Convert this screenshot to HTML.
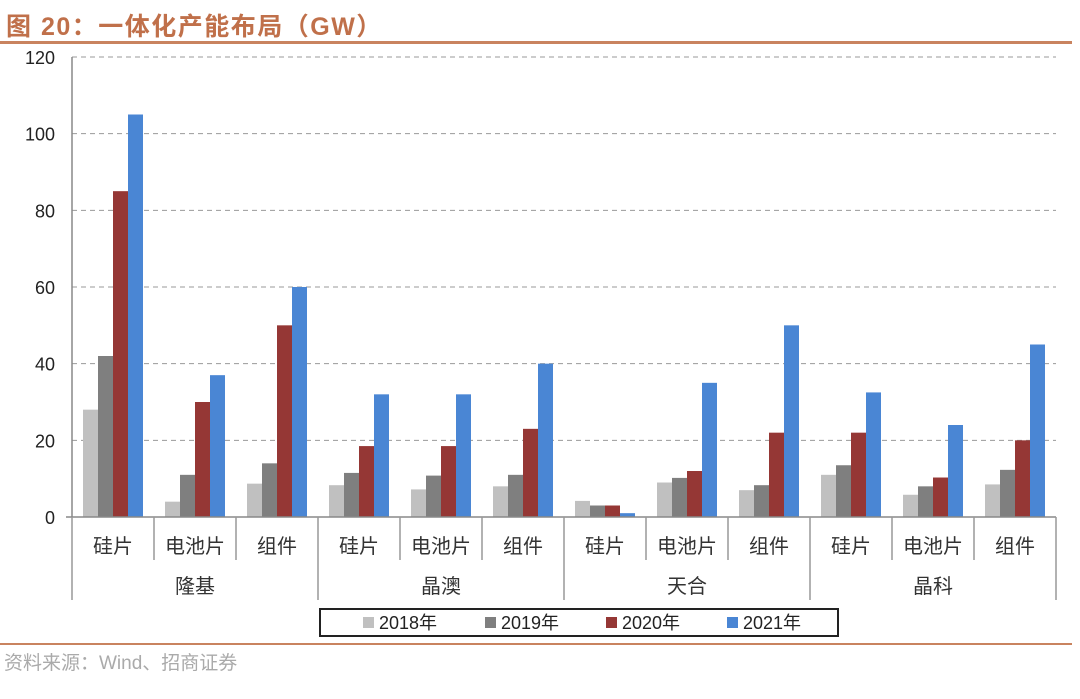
<!DOCTYPE html>
<html><head><meta charset="utf-8"><style>
body{margin:0;width:1080px;height:694px;background:#fff;font-family:"Liberation Sans","Noto Sans CJK SC",sans-serif;overflow:hidden}
</style></head><body>
<svg id="c" width="1080" height="694" xmlns="http://www.w3.org/2000/svg"></svg>
<script>
const groups=["隆基","晶澳","天合","晶科"];
const categories=["硅片","电池片","组件"];
const seriesNames=["2018年","2019年","2020年","2021年"];
const s2018=[28,4,8.7,8.3,7.2,8,4.2,9,7,11,5.8,8.5];
const s2019=[42,11,14,11.5,10.8,11,3,10.2,8.3,13.5,8,12.3];
const s2020=[85,30,50,18.5,18.5,23,3,12,22,22,10.3,20];
const s2021=[105,37,60,32,32,40,1,35,50,32.5,24,45];
const yTicks=[0,20,40,60,80,100,120];
const colors=["#c0c0c0","#7f7f7f","#953735","#4a86d4"];
const svg=document.getElementById('c');
const NS="http://www.w3.org/2000/svg";
function el(t,a,txt){const e=document.createElementNS(NS,t);for(const k in a)e.setAttribute(k,a[k]);if(txt!==undefined)e.textContent=txt;svg.appendChild(e);return e;}
const X0=72,X1=1056,Y0=517,Y1=57,YMAX=120;
const y=v=>Y0-(v/YMAX)*(Y0-Y1);
const n=s2018.length,gw=(X1-X0)/n,bw=15;
const x=i=>X0+i*gw;
let t=el('text',{x:6,y:35,fill:'#c0704a','font-size':25,'font-weight':'bold','letter-spacing':'1.5'},'图 20：一体化产能布局（GW）');

let l=el('rect',{x:0,y:41,width:1072,height:3,fill:'#c9835f'});

yTicks.forEach(v=>{
 if(v>0){const g=el('line',{x1:X0,x2:X1,y1:y(v),y2:y(v),stroke:'#999','stroke-dasharray':'5,4','stroke-width':1});
 }
 const tk=el('text',{x:55,y:y(v)+7,'text-anchor':'end','font-size':18,fill:'#222'},v);
 
});
const series=[s2018,s2019,s2020,s2021];
series.forEach((s,k)=>s.forEach((v,i)=>{
 const r=el('rect',{x:x(i)+11+k*bw,y:y(v),width:bw,height:Y0-y(v),fill:colors[k]});
 
}));
let a=el('line',{x1:X0,x2:X0,y1:Y1,y2:Y0,stroke:'#888','stroke-width':1.5});
a=el('line',{x1:X0-6,x2:X1,y1:Y0,y2:Y0,stroke:'#888','stroke-width':1.5});
for(let i=0;i<=n;i++){
 const big=i%3===0;
 const sl=el('line',{x1:x(i),x2:x(i),y1:Y0,y2:big?600:560,stroke:'#999','stroke-width':1.5});
 
 if(i<n){const c=el('text',{x:x(i)+gw/2,y:553,'text-anchor':'middle','font-size':20,fill:'#333'},categories[i%3]);
 }
}
groups.forEach((g,j)=>{const c=el('text',{x:x(j*3)+gw*1.5,y:593,'text-anchor':'middle','font-size':20,fill:'#333'},g);
 });
let lb=el('rect',{x:320,y:609,width:518,height:27,fill:'#fff',stroke:'#222','stroke-width':2});

const lx=[363,485,606,727];
seriesNames.forEach((nm,k)=>{
 const sw=el('rect',{x:lx[k],y:617,width:11,height:11,fill:colors[k]});
 
 const tt=el('text',{x:lx[k]+16,y:629,'font-size':18,fill:'#222'},nm);
 
});
l=el('rect',{x:0,y:643,width:1072,height:2,fill:'#c9835f'});
t=el('text',{x:4,y:669,'font-size':19,fill:'#aaa'},'资料来源：Wind、招商证券');
</script>
</body></html>
